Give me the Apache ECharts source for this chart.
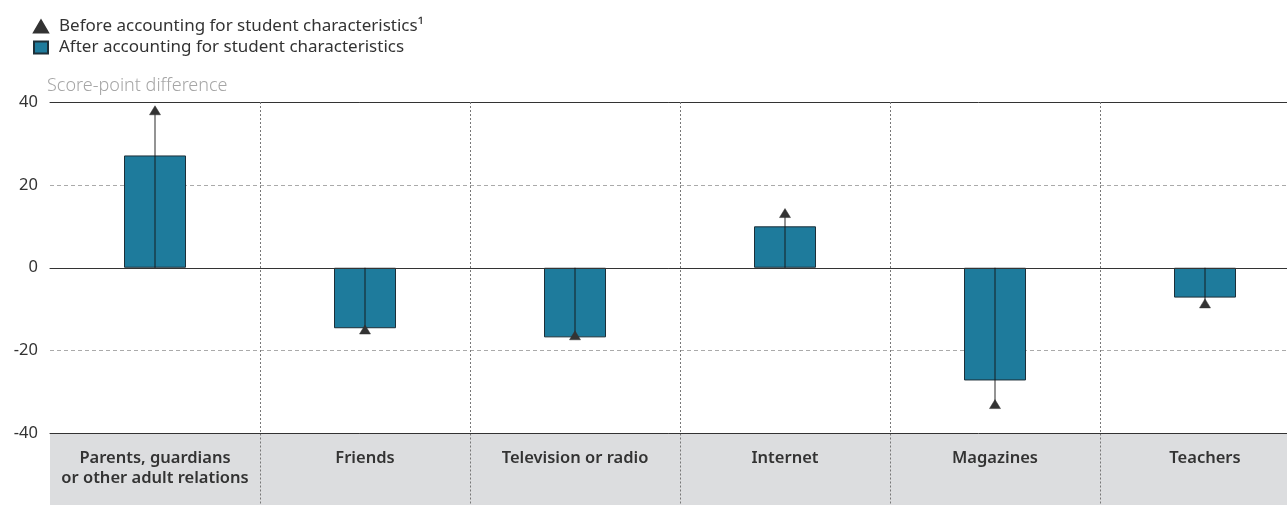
<!DOCTYPE html>
<html>
<head>
<meta charset="utf-8">
<script src="https://cdn.jsdelivr.net/npm/echarts@6/dist/echarts.min.js"></script>
<style>
html,body{margin:0;padding:0;background:#fff;}
#chart{width:1287px;height:505px;}
</style>
</head>
<body>
<div id="chart"></div>
<script>
var categories = ['Parents, guardians\nor other adult relations', 'Friends', 'Television or radio', 'Internet', 'Magazines', 'Teachers'];
var afterValues = [27.1, -14.6, -16.8, 10.0, -27.2, -7.2];
var beforeValues = [38.0, -14.9, -16.3, 13.2, -32.9, -8.6];
var yTicks = { min: -40, max: 40, interval: 20 };
var beforeName = 'Before accounting for student characteristics\u00B9';
var afterName = 'After accounting for student characteristics';

var chart = echarts.init(document.getElementById('chart'));
var font = 'Noto Sans';
var option = {
  animation: false,
  textStyle: { fontFamily: font },
  legend: {
    orient: 'vertical',
    left: 28,
    top: 13,
    itemWidth: 14,
    itemHeight: 12,
    itemGap: 4,
    data: [
      { name: beforeName, icon: 'triangle' },
      { name: afterName, icon: 'rect' }
    ],
    textStyle: { fontFamily: font, fontSize: 17, color: '#333', padding: [0, 0, 0, 6] }
  },
  grid: [
    { left: 50, width: 1260, top: 102, bottom: 71.5, containLabel: false, outerBoundsMode: 'none' },
    { left: 50, width: 1260, top: 433.5, bottom: -5, containLabel: false, outerBoundsMode: 'none' }
  ],
  xAxis: [
    {
      type: 'category', gridIndex: 0, data: categories, position: 'bottom',
      axisLine: { onZero: true, lineStyle: { color: '#333', width: 1 } },
      axisTick: { show: false }, axisLabel: { show: false },
      splitLine: { show: true, showMinLine: false, showMaxLine: false, lineStyle: { color: '#777', type: [2, 2], width: 1 } },
      z: 3
    },
    {
      type: 'category', gridIndex: 0, data: categories, position: 'top',
      axisLine: { show: true, onZero: false, lineStyle: { color: '#333', width: 1 } },
      axisTick: { show: false }, axisLabel: { show: false }, splitLine: { show: false }
    },
    {
      type: 'category', gridIndex: 1, data: categories, position: 'top',
      axisLine: { show: true, onZero: false, lineStyle: { color: '#333', width: 1 } },
      axisTick: { show: false },
      axisLabel: {
        inside: true, margin: 15, verticalAlign: 'top', interval: 0,
        fontFamily: font, fontSize: 16.5, fontWeight: 600, color: '#333', lineHeight: 20, align: 'center'
      },
      splitLine: { show: true, showMinLine: false, showMaxLine: false, lineStyle: { color: '#777', type: [2, 2], width: 1 } },
      splitArea: { show: true, areaStyle: { color: ['#dcdddf'] } },
      z: 1
    }
  ],
  yAxis: [
    {
      type: 'value', gridIndex: 0, min: yTicks.min, max: yTicks.max, interval: yTicks.interval,
      name: 'Score-point difference', nameLocation: 'end', nameGap: 7,
      nameTextStyle: { fontFamily: font, fontSize: 18, fontWeight: 300, color: '#a6a6a6', align: 'left', padding: [0, 0, 0, -3] },
      axisLine: { show: false }, axisTick: { show: false },
      axisLabel: { fontFamily: font, fontSize: 16.5, color: '#333', margin: 12 },
      splitLine: { show: true, lineStyle: { color: '#aaa', type: [4, 3], width: 1 } }
    },
    {
      type: 'value', gridIndex: 1, min: 0, max: 1, show: false
    }
  ],
  series: [
    {
      name: afterName, type: 'bar', xAxisIndex: 0, yAxisIndex: 0,
      data: afterValues, barWidth: 62,
      itemStyle: { color: '#1e7b9c', borderColor: '#1d2f38', borderWidth: 1 },
      z: 2
    },
    {
      name: 'stem', type: 'custom', xAxisIndex: 0, yAxisIndex: 0,
      data: beforeValues.map(function (v, i) { return [i, v]; }),
      renderItem: function (params, api) {
        var p0 = api.coord([api.value(0), 0]);
        var p1 = api.coord([api.value(0), api.value(1)]);
        return { type: 'line', shape: { x1: p0[0], y1: p0[1], x2: p1[0], y2: p1[1] },
                 style: { stroke: 'rgba(20,20,20,0.7)', lineWidth: 1.3 } };
      },
      z: 4, silent: true
    },
    {
      name: beforeName, type: 'scatter', xAxisIndex: 0, yAxisIndex: 0,
      data: beforeValues, symbol: 'triangle', symbolSize: [11, 9],
      itemStyle: { color: '#333', borderColor: '#333', borderWidth: 0.5, opacity: 1 },
      z: 5
    }
  ]
};
chart.setOption(option);
</script>
</body>
</html>
